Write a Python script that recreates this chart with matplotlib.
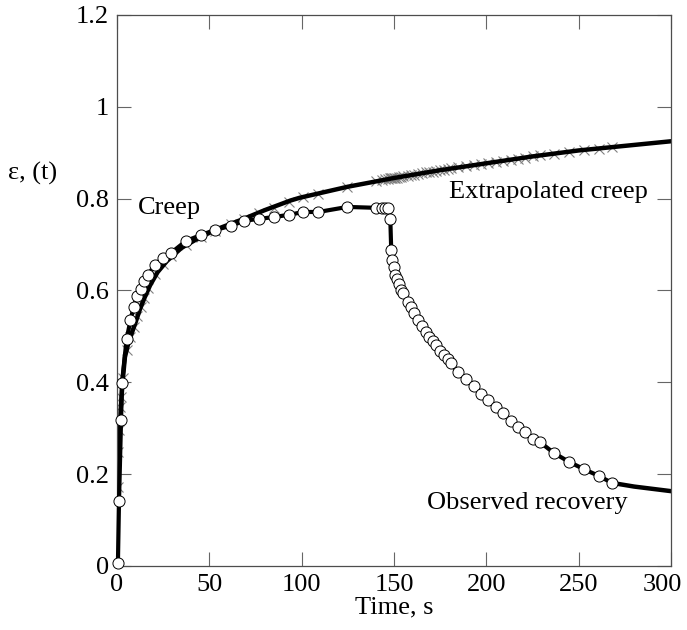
import matplotlib.pyplot as plt
import matplotlib.transforms as mtransforms

plt.rcParams["font.family"] = ["Liberation Serif", "DejaVu Serif"]

# observed creep (circles), s
creep_t = [0.5, 1.1, 2.2, 2.7, 5.2, 7.3, 9.0, 10.9, 13.0, 14.6, 16.8, 20.6, 25.0, 29.3,
           37.4, 45.6, 53.2, 61.9, 68.9, 77.0, 85.1, 93.3, 100.9, 109.1, 124.8, 140.5,
           143.5, 145.4, 147.0]
creep_eps = [0.006, 0.142, 0.318, 0.399, 0.494, 0.535, 0.564, 0.588, 0.603, 0.621, 0.634,
             0.656, 0.671, 0.682, 0.708, 0.721, 0.732, 0.741, 0.752, 0.756, 0.760, 0.765,
             0.771, 0.771, 0.782, 0.780, 0.780, 0.780, 0.780]

# observed recovery (circles)
rec_t = [148.0, 148.5, 149.0, 149.8, 150.4, 151.5, 152.5, 153.6, 154.7, 157.4, 159.0,
         160.6, 162.8, 165.0, 167.1, 168.7, 170.9, 172.5, 174.7, 176.9, 179.0, 180.7,
         184.5, 188.8, 193.2, 197.0, 200.8, 205.1, 208.9, 213.2, 217.0, 220.8, 225.2,
         229.0, 236.6, 244.7, 252.8, 261.0, 268.0]
rec_eps = [0.756, 0.688, 0.667, 0.651, 0.634, 0.625, 0.614, 0.601, 0.595, 0.575, 0.564,
           0.551, 0.536, 0.523, 0.510, 0.499, 0.490, 0.481, 0.468, 0.460, 0.451, 0.442,
           0.423, 0.407, 0.392, 0.375, 0.362, 0.346, 0.333, 0.316, 0.303, 0.292, 0.277,
           0.270, 0.246, 0.227, 0.211, 0.196, 0.181]

# recovery curve continued past last reading
tail_t = [268.0, 280.0, 290.0, 300.0]
tail_eps = [0.181, 0.173, 0.168, 0.163]

# fitted / extrapolated creep curve
fit_t = [0, 0.3, 1, 2, 3, 4.3, 6, 8, 10, 12.5, 15, 18, 22, 27, 35, 45, 55, 68, 80,
         94, 99, 125, 150, 175, 200, 225, 250, 275, 300]
fit_eps = [0.0, 0.12, 0.25, 0.34, 0.40, 0.455, 0.483, 0.507, 0.53, 0.56, 0.585, 0.612,
           0.64, 0.664, 0.693, 0.716, 0.735, 0.755, 0.775, 0.796, 0.802, 0.826, 0.845,
           0.862, 0.877, 0.892, 0.905, 0.915, 0.925]

# model points (crosses)
cross_t = [0.4, 0.8, 1.2, 1.7, 2.2, 3.0, 5.2, 7.3, 9.0, 10.9, 13.0, 14.6, 16.8, 20.6,
           25.0, 29.3, 37.4, 45.6, 53.2, 61.9, 68.9, 77.0, 85.1, 93.3, 100.9, 109.1,
           124.8, 140.5, 143.5, 145.4, 147.0] + rec_t
cross_eps = [0.172, 0.248, 0.296, 0.346, 0.368, 0.41, 0.47, 0.498, 0.52, 0.545, 0.565,
             0.583, 0.605, 0.636, 0.657, 0.675, 0.70, 0.717, 0.73, 0.745, 0.755, 0.768,
             0.78, 0.793, 0.803, 0.811, 0.826, 0.838, 0.840, 0.842, 0.843,
             0.844, 0.844, 0.844, 0.845, 0.845, 0.846, 0.847, 0.848, 0.849, 0.850, 0.851,
             0.852, 0.854, 0.855, 0.857, 0.858, 0.859, 0.861, 0.862, 0.863, 0.865, 0.866,
             0.868, 0.871, 0.873, 0.876, 0.877, 0.880, 0.882, 0.885, 0.887, 0.889, 0.892,
             0.894, 0.898, 0.902, 0.906, 0.909, 0.912]

fig = plt.figure(figsize=(6.87, 6.3), dpi=100)
ax = fig.add_axes([0.1703, 0.1016, 0.8064, 0.8746])

ax.plot(cross_t, cross_eps, linestyle="none", marker="x", markersize=7,
        markeredgewidth=0.8, color="0.5", zorder=1)
ax.plot(fit_t, fit_eps, color="black", linewidth=3.2, zorder=2)
ax.plot(tail_t, tail_eps, color="black", linewidth=3.2, zorder=2)
ax.plot(creep_t + rec_t, creep_eps + rec_eps, color="black", linewidth=3.0,
        marker="o", markersize=8, markerfacecolor="white", markeredgecolor="black",
        markeredgewidth=0.7, zorder=3, clip_on=False)

ax.text(11.5, 0.78, "Creep", fontsize=19, va="center", ha="left")
ax.text(180, 0.815, "Extrapolated creep", fontsize=19, va="center", ha="left")
ax.text(168, 0.137, "Observed recovery", fontsize=19, va="center", ha="left")

ax.set_xlim(0, 300)
ax.set_ylim(0, 1.2)
ax.set_xticks([0, 50, 100, 150, 200, 250, 300])
ax.set_yticks([0, 0.2, 0.4, 0.6, 0.8, 1.0, 1.2])
ax.set_yticklabels(["0", "0.2", "0.4", "0.6", "0.8", "1", "1.2"])
ax.tick_params(direction="in", length=10, width=0.8, color="0.4", labelsize=19,
               top=True, right=True, pad=6)
for s in ax.spines.values():
    s.set_color("0.3")
    s.set_linewidth(0.9)

# keep the last x label inside the canvas
last = ax.get_xticklabels()[-1]
last.set_transform(last.get_transform() +
                   mtransforms.ScaledTranslation(-6 / 72, 0, fig.dpi_scale_trans))

ax.set_xlabel("Time, s", fontsize=19, labelpad=0)
ax.text(-0.152, 0.713, "ε, (t)", transform=ax.transAxes, fontsize=19,
        ha="center", va="center")

fig.savefig("out.png", dpi=100)
